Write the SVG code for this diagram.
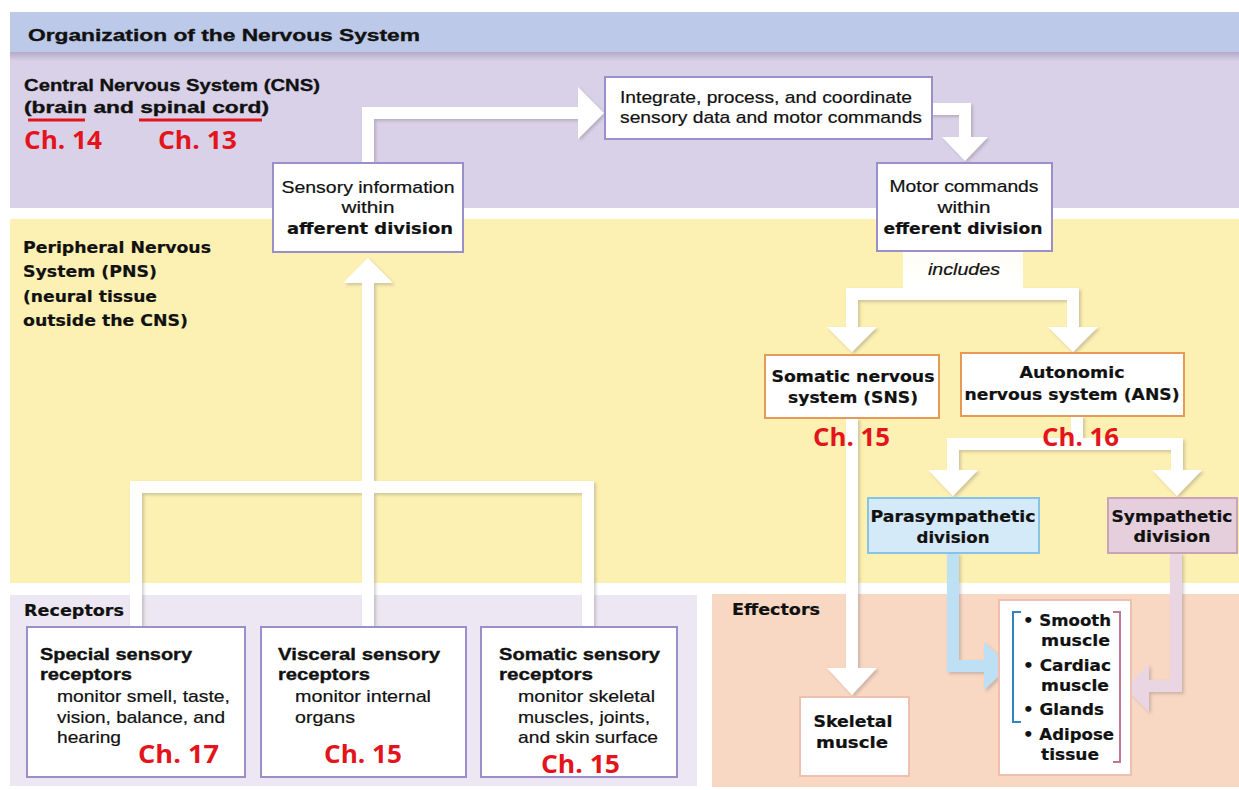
<svg xmlns="http://www.w3.org/2000/svg" width="1239" height="790" viewBox="0 0 1239 790">
  <defs>
    <style>
      .reg { font-family: "Liberation Sans", Arial, sans-serif; font-size: 17px; fill: #111; stroke: #111; stroke-width: 0.2px; }
      .b { font-family: "Liberation Sans", Arial, sans-serif; font-weight: 700; font-size: 17px; fill: #111; stroke: #111; stroke-width: 0.35px; }
      .hv { font-family: "DejaVu Sans", "Liberation Sans", sans-serif; font-weight: 700; font-size: 15.5px; fill: #111; stroke: #111; stroke-width: 0.2px; }
      .it { font-family: "Liberation Sans", Arial, sans-serif; font-style: italic; font-size: 16px; fill: #111; stroke: #111; stroke-width: 0.2px; }
      .ch { font-family: "Open Sans", "Liberation Sans", sans-serif; font-weight: 700; font-size: 25px; fill: #e3141b; }
      .mid { text-anchor: middle; }
      .cnsbox { fill: #fff; stroke: #9b8fcb; stroke-width: 2; }
      .pnsbox { fill: #fff; stroke: #e59a55; stroke-width: 2; }
      .effbox { fill: #fff; stroke: #efc0ae; stroke-width: 2; }
      .arrow { fill: #fff; filter: url(#shade); }
    </style>
    <filter id="shade" x="-10%" y="-10%" width="130%" height="130%">
      <feDropShadow dx="2" dy="2" stdDeviation="1.5" flood-color="#6a6060" flood-opacity="0.3"/>
    </filter>
    <linearGradient id="cnsTop" x1="0" y1="0" x2="0" y2="1">
      <stop offset="0" stop-color="#b3aac6"/>
      <stop offset="0.06" stop-color="#d9d1e8"/>
      <stop offset="1" stop-color="#d9d1e8"/>
    </linearGradient>
    <linearGradient id="inclFade" x1="0" y1="0" x2="0" y2="1">
      <stop offset="0" stop-color="#fffdf4"/>
      <stop offset="1" stop-color="#ffffff"/>
    </linearGradient>
  </defs>

  <rect width="1239" height="790" fill="#fff"/>

  <!-- background regions -->
  <g id="bands">
    <rect x="10" y="12" width="1229" height="40" fill="#bcc9e8"/>
    <rect x="10" y="52" width="1229" height="156" fill="url(#cnsTop)"/>
    <rect x="10" y="219" width="1229" height="364" fill="#fcf0b2"/>
    <rect x="10" y="595" width="687" height="191" fill="#ece7f3"/>
    <rect x="712" y="594" width="527" height="193" fill="#f8d7c3"/>
  </g>

  <!-- region labels -->
  <g id="labels">
    <text class="b" x="28" y="41" font-size="20" stroke-width="0.5" textLength="392" lengthAdjust="spacingAndGlyphs">Organization of the Nervous System</text>
    <text class="b" x="24" y="91" textLength="296" lengthAdjust="spacingAndGlyphs">Central Nervous System (CNS)</text>
    <text class="b" x="24" y="113" textLength="245" lengthAdjust="spacingAndGlyphs">(brain and spinal cord)</text>
    <line x1="28" y1="120" x2="85" y2="120" stroke="#e3141b" stroke-width="3"/>
    <line x1="139" y1="120" x2="262" y2="120" stroke="#e3141b" stroke-width="3"/>
    <text class="ch" x="24" y="149" textLength="78" lengthAdjust="spacingAndGlyphs">Ch. 14</text>
    <text class="ch" x="158" y="149" textLength="79" lengthAdjust="spacingAndGlyphs">Ch. 13</text>

    <text class="hv" x="23" y="253" textLength="188" lengthAdjust="spacingAndGlyphs">Peripheral Nervous</text>
    <text class="hv" x="23" y="277" textLength="134" lengthAdjust="spacingAndGlyphs">System (PNS)</text>
    <text class="hv" x="23" y="302" textLength="134" lengthAdjust="spacingAndGlyphs">(neural tissue</text>
    <text class="hv" x="23" y="326" textLength="165" lengthAdjust="spacingAndGlyphs">outside the CNS)</text>

    <text class="hv" x="24" y="616" textLength="100" lengthAdjust="spacingAndGlyphs">Receptors</text>
    <text class="hv" x="732" y="615" textLength="88" lengthAdjust="spacingAndGlyphs">Effectors</text>
  </g>

  <!-- connectors -->
  <g id="connectors">
    <!-- receptors to afferent division -->
    <path class="arrow" d="M130 627 V481 H362 V283 H343 L368 258 L393 283 H374 V481 H594 V627 H582 V493 H374 V627 H362 V493 H142 V627 Z"/>
    <!-- afferent division to integration -->
    <path class="arrow" d="M362 163 V107 H578 V87 L604 113 L578 139 V119 H374 V163 Z"/>
    <!-- integration to efferent division -->
    <path class="arrow" d="M930 103 H971 V137 H988 L965 161 L942 137 H959 V115 H930 Z"/>
    <!-- efferent division branches -->
    <path class="arrow" d="M846 300 V327 H827 L852 352 L877 327 H858 V300 H1067 V327 H1048 L1073 352 L1098 327 H1079 V288 H846 Z"/>
    <!-- ANS branches -->
    <path class="arrow" d="M1071 416 V438 H947 V470 H928 L953 496 L978 470 H959 V450 H1171 V470 H1152 L1177 496 L1202 470 H1183 V438 H1083 V416 Z"/>
    <!-- SNS to skeletal muscle -->
    <path class="arrow" d="M846 418 V668 H827 L852 695 L877 668 H858 V418 Z"/>
    <!-- parasympathetic to effectors -->
    <path d="M947 553 V672 H984 V690 L1010 666 L984 642 V660 H959 V553 Z" fill="#bde0f5" filter="url(#shade)"/>
    <!-- sympathetic to effectors -->
    <path d="M1170 553 V680 H1149 V664 L1125 688 L1149 712 V692 H1182 V553 Z" fill="#ead6e2" filter="url(#shade)"/>
    <!-- "includes" label patch -->
    <rect x="903" y="251" width="120" height="38" fill="url(#inclFade)"/>
    <text class="it mid" x="964" y="275" textLength="72" lengthAdjust="spacingAndGlyphs">includes</text>
  </g>

  <!-- CNS nodes -->
  <g id="afferent">
    <rect class="cnsbox" x="273" y="163" width="190" height="89"/>
    <text class="reg mid" x="368" y="193" textLength="173" lengthAdjust="spacingAndGlyphs">Sensory information</text>
    <text class="reg mid" x="368" y="213" textLength="53" lengthAdjust="spacingAndGlyphs">within</text>
    <text class="hv mid" x="370" y="234" textLength="166" lengthAdjust="spacingAndGlyphs">afferent division</text>
  </g>

  <g id="integrate">
    <rect class="cnsbox" x="605" y="77" width="327" height="62"/>
    <text class="reg" x="620" y="103" textLength="292" lengthAdjust="spacingAndGlyphs">Integrate, process, and coordinate</text>
    <text class="reg" x="620" y="123" textLength="302" lengthAdjust="spacingAndGlyphs">sensory data and motor commands</text>
  </g>

  <g id="efferent">
    <rect class="cnsbox" x="877" y="163" width="175" height="88"/>
    <text class="reg mid" x="964" y="192" textLength="149" lengthAdjust="spacingAndGlyphs">Motor commands</text>
    <text class="reg mid" x="964" y="213" textLength="53" lengthAdjust="spacingAndGlyphs">within</text>
    <text class="hv mid" x="963" y="234" textLength="159" lengthAdjust="spacingAndGlyphs">efferent division</text>
  </g>

  <!-- PNS nodes -->
  <g id="sns">
    <rect class="pnsbox" x="765" y="355" width="174" height="63"/>
    <text class="hv mid" x="853" y="382" textLength="163" lengthAdjust="spacingAndGlyphs">Somatic nervous</text>
    <text class="hv mid" x="853" y="403" textLength="130" lengthAdjust="spacingAndGlyphs">system (SNS)</text>
    <text class="ch" x="813" y="446" textLength="77" lengthAdjust="spacingAndGlyphs">Ch. 15</text>
  </g>

  <g id="ans">
    <rect class="pnsbox" x="961" y="353" width="223" height="63"/>
    <text class="hv mid" x="1072" y="378" textLength="105" lengthAdjust="spacingAndGlyphs">Autonomic</text>
    <text class="hv mid" x="1072" y="400" textLength="215" lengthAdjust="spacingAndGlyphs">nervous system (ANS)</text>
    <text class="ch" x="1042" y="446" textLength="77" lengthAdjust="spacingAndGlyphs">Ch. 16</text>
  </g>

  <g id="parasympathetic">
    <rect x="868" y="498" width="171" height="55" fill="#d5eaf8" stroke="#86c4e6" stroke-width="2"/>
    <text class="hv mid" x="953" y="522" textLength="165" lengthAdjust="spacingAndGlyphs">Parasympathetic</text>
    <text class="hv mid" x="953" y="543" textLength="73" lengthAdjust="spacingAndGlyphs">division</text>
  </g>

  <g id="sympathetic">
    <rect x="1108" y="498" width="129" height="55" fill="#e6cfdc" stroke="#c9a3b8" stroke-width="2"/>
    <text class="hv mid" x="1172" y="522" textLength="121" lengthAdjust="spacingAndGlyphs">Sympathetic</text>
    <text class="hv mid" x="1172" y="542" textLength="77" lengthAdjust="spacingAndGlyphs">division</text>
  </g>

  <!-- receptor nodes -->
  <g id="special-receptors">
    <rect class="cnsbox" x="27" y="627" width="218" height="150"/>
    <text class="b" x="40" y="660" textLength="152" lengthAdjust="spacingAndGlyphs">Special sensory</text>
    <text class="b" x="40" y="680" textLength="92" lengthAdjust="spacingAndGlyphs">receptors</text>
    <text class="reg" x="57" y="702" textLength="173" lengthAdjust="spacingAndGlyphs">monitor smell, taste,</text>
    <text class="reg" x="57" y="723" textLength="168" lengthAdjust="spacingAndGlyphs">vision, balance, and</text>
    <text class="reg" x="57" y="743" textLength="64" lengthAdjust="spacingAndGlyphs">hearing</text>
    <text class="ch" x="138" y="763" textLength="81" lengthAdjust="spacingAndGlyphs">Ch. 17</text>
  </g>

  <g id="visceral-receptors">
    <rect class="cnsbox" x="261" y="627" width="205" height="150"/>
    <text class="b" x="278" y="660" textLength="162" lengthAdjust="spacingAndGlyphs">Visceral sensory</text>
    <text class="b" x="278" y="680" textLength="92" lengthAdjust="spacingAndGlyphs">receptors</text>
    <text class="reg" x="295" y="702" textLength="136" lengthAdjust="spacingAndGlyphs">monitor internal</text>
    <text class="reg" x="295" y="723" textLength="60" lengthAdjust="spacingAndGlyphs">organs</text>
    <text class="ch" x="324" y="763" textLength="78" lengthAdjust="spacingAndGlyphs">Ch. 15</text>
  </g>

  <g id="somatic-receptors">
    <rect class="cnsbox" x="481" y="627" width="196" height="150"/>
    <text class="b" x="499" y="660" textLength="161" lengthAdjust="spacingAndGlyphs">Somatic sensory</text>
    <text class="b" x="499" y="680" textLength="94" lengthAdjust="spacingAndGlyphs">receptors</text>
    <text class="reg" x="518" y="702" textLength="137" lengthAdjust="spacingAndGlyphs">monitor skeletal</text>
    <text class="reg" x="518" y="723" textLength="132" lengthAdjust="spacingAndGlyphs">muscles, joints,</text>
    <text class="reg" x="518" y="743" textLength="140" lengthAdjust="spacingAndGlyphs">and skin surface</text>
    <text class="ch" x="541" y="773" textLength="79" lengthAdjust="spacingAndGlyphs">Ch. 15</text>
  </g>

  <!-- effector nodes -->
  <g id="skeletal-muscle">
    <rect class="effbox" x="800" y="697" width="109" height="79"/>
    <text class="hv mid" x="853" y="727" textLength="79" lengthAdjust="spacingAndGlyphs">Skeletal</text>
    <text class="hv mid" x="852" y="748" textLength="72" lengthAdjust="spacingAndGlyphs">muscle</text>
  </g>

  <g id="visceral-effectors">
    <rect class="effbox" x="999" y="600" width="132" height="175"/>
    <path d="M1021 612 H1013 V722 H1021" fill="none" stroke="#2f86bf" stroke-width="2"/>
    <path d="M1113 612 H1120 V762 H1113" fill="none" stroke="#c07896" stroke-width="2"/>
    <text class="hv" x="1023" y="626" textLength="88" lengthAdjust="spacingAndGlyphs">• Smooth</text>
    <text class="hv" x="1041" y="646" textLength="69" lengthAdjust="spacingAndGlyphs">muscle</text>
    <text class="hv" x="1023" y="671" textLength="88" lengthAdjust="spacingAndGlyphs">• Cardiac</text>
    <text class="hv" x="1041" y="691" textLength="68" lengthAdjust="spacingAndGlyphs">muscle</text>
    <text class="hv" x="1023" y="715" textLength="81" lengthAdjust="spacingAndGlyphs">• Glands</text>
    <text class="hv" x="1023" y="740" textLength="91" lengthAdjust="spacingAndGlyphs">• Adipose</text>
    <text class="hv" x="1041" y="760" textLength="58" lengthAdjust="spacingAndGlyphs">tissue</text>
  </g>
</svg>
